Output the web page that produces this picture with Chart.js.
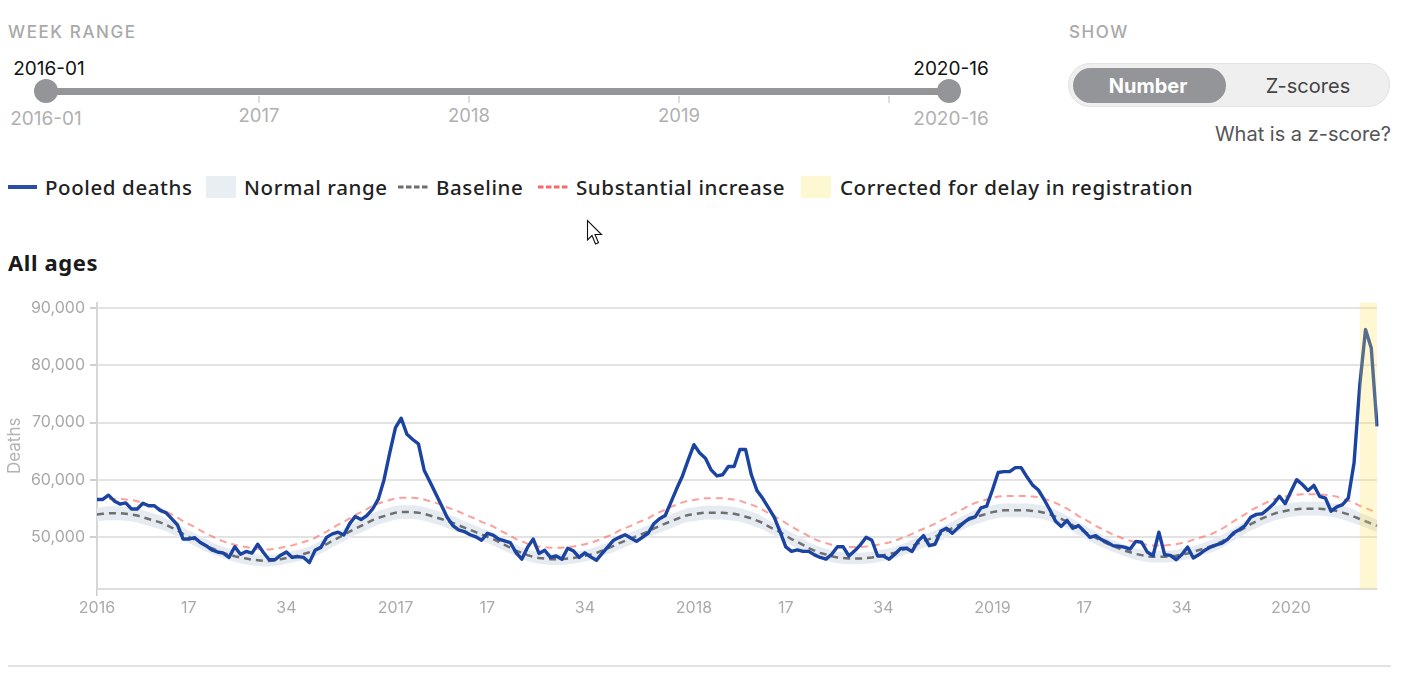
<!DOCTYPE html>
<html>
<head>
<meta charset="UTF-8">
<title>Pooled deaths - All ages</title>
<script src="https://cdn.jsdelivr.net/npm/chart.js"></script>
<style>
  body { margin: 0; background: #fff; width: 1428px; height: 693px; position: relative; overflow: hidden; font-family: Inter, "Noto Sans", sans-serif; }
  .abs { position: absolute; white-space: nowrap; }
  .cap { font-size: 17px; font-weight: 500; color: #a9a9a9; letter-spacing: 1.6px; }
  .rng { font-size: 19px; transform: translateX(-50%); }
  .yr { font-size: 18.5px; color: #b0b0b0; }
  .lg { font-family: "Noto Sans", sans-serif; font-size: 20.5px; font-weight: 500; color: #222; letter-spacing: 0.6px; top: 173px; }
</style>
</head>
<body>

<!-- week range slider -->
<div class="abs cap" style="left:8px;top:22px">WEEK RANGE</div>
<div class="abs rng" style="left:49px;top:57px;color:#111">2016-01</div>
<div class="abs rng" style="left:951px;top:57px;color:#111">2020-16</div>
<div class="abs" style="left:46px;top:88px;width:903px;height:7px;background:#939598;border-radius:4px"></div>
<div class="abs" style="left:34px;top:79px;width:24px;height:24px;border-radius:50%;background:#939598"></div>
<div class="abs" style="left:937px;top:79px;width:24px;height:24px;border-radius:50%;background:#939598"></div>
<div class="abs" style="left:258px;top:96px;width:2px;height:7px;background:#dedede"></div>
<div class="abs" style="left:468px;top:96px;width:2px;height:7px;background:#dedede"></div>
<div class="abs" style="left:678px;top:96px;width:2px;height:7px;background:#dedede"></div>
<div class="abs" style="left:888px;top:96px;width:2px;height:7px;background:#dedede"></div>
<div class="abs rng" style="left:46px;top:107px;color:#b0b0b0">2016-01</div>
<div class="abs rng yr" style="left:259px;top:104px">2017</div>
<div class="abs rng yr" style="left:469px;top:104px">2018</div>
<div class="abs rng yr" style="left:679px;top:104px">2019</div>
<div class="abs rng" style="left:951px;top:107px;color:#b0b0b0">2020-16</div>

<!-- show toggle -->
<div class="abs cap" style="left:1069px;top:22px">SHOW</div>
<div class="abs" style="left:1068px;top:63px;width:320px;height:42px;border-radius:22px;background:#efefef;border:1.5px solid #e2e2e2"></div>
<div class="abs" style="left:1073px;top:68px;width:153px;height:35px;border-radius:18px;background:#939598"></div>
<div class="abs" style="left:1148px;top:74px;transform:translateX(-50%);font-size:20px;font-weight:700;color:#fff">Number</div>
<div class="abs" style="left:1308px;top:74px;transform:translateX(-50%);font-size:20px;color:#444">Z-scores</div>
<div class="abs" style="right:37px;top:122px;font-size:20px;color:#555">What is a z-score?</div>

<!-- legend -->
<div class="abs" style="left:8px;top:185px;width:29px;height:4px;background:#2a4ea6"></div>
<div class="abs lg" style="left:45px">Pooled deaths</div>
<div class="abs" style="left:206px;top:176px;width:30px;height:22px;background:#e9eef3"></div>
<div class="abs lg" style="left:244px">Normal range</div>
<svg class="abs" style="left:398px;top:185px" width="30" height="4"><line x1="0" y1="2" x2="30" y2="2" stroke="#6d6d6d" stroke-width="3" stroke-dasharray="5.5 2.5"/></svg>
<div class="abs lg" style="left:436px">Baseline</div>
<svg class="abs" style="left:538px;top:185px" width="30" height="4"><line x1="0" y1="2" x2="30" y2="2" stroke="#f46a6a" stroke-width="3" stroke-dasharray="5.5 2.5"/></svg>
<div class="abs lg" style="left:576px">Substantial increase</div>
<div class="abs" style="left:801px;top:176px;width:30px;height:22px;background:#fef8d2"></div>
<div class="abs lg" style="left:840px">Corrected for delay in registration</div>

<svg class="abs" style="left:586px;top:219px" width="20" height="28" viewBox="0 0 20 28"><path d="M1.5 1.5 L1.5 21 L6 16.5 L9.5 25 L12.5 23.8 L9 15.5 L15.5 15.5 Z" fill="#fff" stroke="#111" stroke-width="1.1"/></svg>

<div class="abs" style="left:8px;top:247px;font-family:'Noto Sans',sans-serif;font-size:22px;font-weight:700;color:#1a1a1a;letter-spacing:0.6px">All ages</div>

<div class="abs" style="left:0;top:288px;width:1400px;height:338px">
  <canvas id="chart" width="1400" height="338"></canvas>
</div>

<div class="abs" style="left:8px;top:665px;width:1383px;height:2px;background:#e2e2e2"></div>

<script>
// weeks shown: 2016-01 .. 2020-16
const years = [2016, 2017, 2018, 2019, 2020]
const weeksShown = [52, 52, 52, 52, 16]
const xTickWeeks = [1, 17, 34]
const yTicks = [50000, 60000, 70000, 80000, 90000]
const correctedFrom = '2020-13'
const correctedTo = '2020-16'

// pooled deaths per week
const pooledDeaths = [
  56600,56600,57350,56350,55800,56000,54950,54950,55950,55500,55500,54700,54300,53250,52200,49700,49700,49950,49100,48550,47800,47450,47250,46500,48350,47050,47550,47250,48800,47350,46100,46100,46900,47450,46500,46650,46500,45600,47750,48250,50000,50600,50900,50400,52350,53650,53100,53800,54900,56650,60000,64700,
  69100,70750,67950,67050,66300,61700,59700,57650,55600,53500,52050,51300,51000,50450,50100,49500,50700,50400,49700,49400,49100,47350,46200,48250,49700,47200,47750,46500,46750,46200,48100,47650,46500,47300,46600,46000,47200,48350,49500,50000,50450,49900,49300,50000,50700,52350,53250,53800,56150,58500,60700,63500,
  66150,64700,63800,61750,60700,60900,62350,62350,65300,65300,60900,58100,56750,55150,53500,51000,48350,47550,47800,47550,47550,46950,46500,46200,47050,48350,48350,46750,47650,48700,50000,49500,46750,46750,46200,47050,48050,48100,47550,49300,50300,48550,48800,51050,51600,50700,51650,52550,53300,53550,55150,55450,
  58250,61300,61450,61450,62150,62150,60550,59100,58250,56600,54800,52800,51900,52950,51600,52050,51050,50000,50300,49600,49150,48550,48450,48300,47950,49300,49150,47400,46850,50900,47000,46850,46100,47000,48300,46400,47000,47750,48300,48700,49000,49700,50750,51350,52050,53500,54000,54100,54950,55850,57150,55850,
  58000,60050,59200,58150,59050,57150,56850,54550,55300,55700,56850,62950,76500,86200,83000,69350
]

// the next four series are in hundreds of deaths
const baseline = [
  540,541,542,542,542,541,540,538,535,532,529,526,522,517,512,506,501,496,491,486,481,477,473,470,467,465,463,461,460,459,459,460,462,464,466,468,471,474,478,483,488,494,499,504,510,515,520,525,530,534,537,540,
  543,544,544,544,543,541,538,535,532,528,525,521,517,513,509,505,501,497,492,487,482,477,473,469,466,464,463,462,462,462,463,464,466,468,470,473,477,481,485,490,494,498,502,506,510,515,520,524,528,532,536,539,
  540,542,543,543,543,543,542,541,539,536,533,529,525,519,514,509,503,497,492,487,481,477,473,470,467,465,464,463,463,463,464,465,467,469,471,473,477,481,485,489,493,497,501,506,511,516,521,526,531,535,538,541,
  544,546,547,547,547,547,547,546,545,543,540,536,532,527,521,515,510,504,499,494,489,485,481,477,474,471,469,467,466,466,466,467,468,470,472,475,478,481,484,488,493,499,505,511,517,523,528,533,537,541,544,546,
  548,549,550,550,550,550,549,548,546,543,540,536,532,528,524,520
]
const substantialIncrease = [
  565,566,567,567,567,566,565,563,560,556,553,550,545,540,535,528,523,518,512,507,502,497,493,490,487,485,483,481,480,479,479,480,482,484,486,489,492,495,499,505,510,516,522,527,533,539,544,549,555,559,562,565,
  568,569,569,569,568,566,563,560,557,552,549,545,540,536,532,527,523,519,513,508,503,497,493,489,486,484,483,482,482,482,483,484,486,488,490,494,498,502,506,512,516,520,525,529,533,539,544,548,553,557,561,564,
  565,567,568,568,568,568,567,566,564,560,557,553,548,542,537,531,525,519,513,508,502,497,493,490,487,485,484,483,483,483,484,485,487,489,491,494,498,502,506,511,515,519,524,529,534,540,545,550,556,560,563,566,
  569,571,572,572,572,572,572,571,570,567,564,560,555,550,544,537,532,526,520,515,510,505,501,497,494,491,489,487,486,486,486,487,488,490,492,496,499,502,505,510,515,521,528,534,540,547,552,557,562,566,569,571,
  573,574,575,575,575,575,574,573,571,567,564,560,555,551,547,542
]
const normalHigh = [
  552,553,554,554,554,553,552,550,547,544,541,538,533,528,523,517,512,507,502,497,491,487,483,480,477,475,473,471,470,469,469,470,472,474,476,478,481,484,489,494,499,505,510,515,521,526,532,537,542,546,549,552,
  555,556,556,556,555,553,550,547,544,540,537,533,528,524,520,516,512,508,503,498,492,487,483,479,476,474,473,472,472,472,473,474,476,478,480,483,487,491,496,501,505,509,513,517,521,526,532,536,540,544,548,551,
  552,554,555,555,555,555,554,553,551,548,545,541,536,530,525,520,514,508,503,498,491,487,483,480,477,475,474,473,473,473,474,475,477,479,481,483,487,491,496,500,504,508,512,517,522,527,533,538,543,547,550,553,
  556,558,559,559,559,559,559,558,557,555,552,548,543,538,532,526,521,515,510,505,499,495,491,487,484,481,479,477,476,476,476,477,478,480,482,485,488,491,495,499,504,510,516,522,528,534,540,545,549,553,556,558,
  560,561,562,562,562,562,561,560,558,555,552,548,543,539,535,531
]
const normalLow = [
  528,529,530,530,530,529,528,526,523,520,517,514,511,506,501,495,490,485,480,475,471,467,463,460,457,455,453,451,450,449,449,450,452,454,456,458,461,464,467,472,477,483,488,493,499,504,508,513,518,522,525,528,
  531,532,532,532,531,529,526,523,520,516,513,509,506,502,498,494,490,486,481,476,472,467,463,459,456,454,453,452,452,452,453,454,456,458,460,463,467,471,474,479,483,487,491,495,499,504,508,512,516,520,524,527,
  528,530,531,531,531,531,530,529,527,524,521,517,514,508,503,498,492,486,481,476,471,467,463,460,457,455,454,453,453,453,454,455,457,459,461,463,467,471,474,478,482,486,490,495,500,505,509,514,519,523,526,529,
  532,534,535,535,535,535,535,534,533,531,528,524,521,516,510,504,499,493,488,483,479,475,471,467,464,461,459,457,456,456,456,457,458,460,462,465,468,471,473,477,482,488,494,500,506,512,516,521,525,529,532,534,
  536,537,538,538,538,538,537,536,534,531,528,524,521,517,513,509
]

const weekLabels = []
years.forEach((yr, k) => {
  for (let w = 1; w <= weeksShown[k]; w++) weekLabels.push(yr + '-' + String(w).padStart(2, '0'))
})
const weekOf = i => +weekLabels[i].split('-')[1]
const hundreds = arr => arr.map(v => v * 100)

// yellow overlay for the weeks still corrected for registration delay
const delayBand = {
  id: 'delayBand',
  afterDatasetsDraw(chart) {
    const { ctx, chartArea, scales } = chart
    const x0 = scales.x.getPixelForValue(weekLabels.indexOf(correctedFrom))
    const x1 = scales.x.getPixelForValue(weekLabels.indexOf(correctedTo))
    ctx.save()
    ctx.fillStyle = 'rgba(255,224,84,0.27)'
    ctx.fillRect(x0, chartArea.top, x1 - x0, chartArea.bottom - chartArea.top)
    ctx.restore()
  }
}

const tickFont = { family: 'Inter', size: 16 }

new Chart(document.getElementById('chart'), {
  type: 'line',
  data: {
    labels: weekLabels,
    datasets: [
      { label: 'Pooled deaths', data: pooledDeaths, borderColor: '#1a43a2', borderWidth: 3.4, borderJoinStyle: 'round', pointRadius: 0, fill: false, order: 0 },
      { label: 'Baseline', data: hundreds(baseline), borderColor: '#6f6f6f', borderWidth: 2.5, borderDash: [7, 5], pointRadius: 0, fill: false, order: 1 },
      { label: 'Substantial increase', data: hundreds(substantialIncrease), borderColor: 'rgba(248,120,112,0.7)', borderWidth: 2, borderDash: [7, 5], pointRadius: 0, fill: false, order: 2 },
      { label: 'Normal range', data: hundreds(normalHigh), borderWidth: 0, borderColor: 'rgba(0,0,0,0)', backgroundColor: '#e5ebf1', pointRadius: 0, fill: '+1', order: 3 },
      { label: 'Normal range low', data: hundreds(normalLow), borderWidth: 0, borderColor: 'rgba(0,0,0,0)', pointRadius: 0, fill: false, order: 4 }
    ]
  },
  options: {
    responsive: false,
    animation: false,
    events: [],
    layout: { padding: { top: 6, right: 23, left: 0, bottom: 0 } },
    plugins: { legend: { display: false }, tooltip: { enabled: false } },
    scales: {
      x: {
        afterFit: s => { s.height = 37 },
        ticks: {
          autoSkip: false, maxRotation: 0, minRotation: 0, padding: 3,
          color: '#aaaaaa', font: tickFont,
          callback: (v, i) => {
            const w = weekOf(i)
            if (w === 1) return weekLabels[i].slice(0, 4)
            return xTickWeeks.includes(w) ? String(w) : null
          }
        },
        grid: {
          color: c => weekOf(c.index) === 1 ? '#d8d8d8' : 'rgba(0,0,0,0)',
          tickColor: c => xTickWeeks.includes(weekOf(c.index)) ? '#cccccc' : 'rgba(0,0,0,0)',
          lineWidth: 1.5, tickLength: 7
        },
        border: { color: '#dedede', width: 2 }
      },
      y: {
        min: 41000, max: 90900,
        afterFit: s => { s.width = 97 },
        afterBuildTicks: s => { s.ticks = yTicks.map(v => ({ value: v })) },
        ticks: { color: '#a8a8a8', font: tickFont, padding: 5, callback: v => v.toLocaleString('en-US') },
        grid: { color: '#e3e3e3', lineWidth: 2, tickLength: 7, tickColor: '#cfcfcf' },
        border: { color: '#d6d6d6', width: 2 },
        title: { display: true, text: 'Deaths', color: '#b3b3b3', font: { family: 'Inter', size: 17 }, padding: { top: 5, bottom: 0 } }
      }
    }
  },
  plugins: [delayBand]
})
</script>
</body>
</html>
